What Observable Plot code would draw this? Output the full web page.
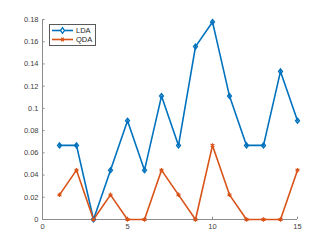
<!DOCTYPE html>
<html>
<head>
<meta charset="utf-8">
<script src="https://cdn.jsdelivr.net/npm/d3@7"></script>
<script src="https://cdn.jsdelivr.net/npm/@observablehq/plot@0.6"></script>
<style>
  html, body { margin: 0; padding: 0; background: #fff; }
  #wrap { position: relative; width: 328px; height: 246px; font-family: "Liberation Sans", Arial, sans-serif; }
  #legend { position: absolute; left: 49px; top: 24px; width: 45px; height: 20px; border: 1px solid #5a5a5a; background: #fff; font-size: 7.5px; color: #262626; }
  .row { position: absolute; left: 0; height: 9px; display: flex; align-items: center; }
  .row svg { display: block; }
  .row span { margin-left: 1px; line-height: 9px; }
</style>
</head>
<body>
<div id="wrap"></div>
<script>
const runs = [1, 2, 3, 4, 5, 6, 7, 8, 9, 10, 11, 12, 13, 14, 15];
const lda = [0.0667, 0.0667, 0, 0.0444, 0.0889, 0.0444, 0.1111, 0.0667, 0.1556, 0.1778, 0.1111, 0.0667, 0.0667, 0.1333, 0.0889];
const qda = [0.0222, 0.0444, 0, 0.0222, 0, 0, 0.0444, 0.0222, 0, 0.0667, 0.0222, 0, 0, 0, 0.0444];
const xTicks = [0, 5, 10, 15];
const yTicks = [0, 0.02, 0.04, 0.06, 0.08, 0.1, 0.12, 0.14, 0.16, 0.18];
const seriesNames = ["LDA", "QDA"];
const colors = ["#0072BD", "#D95319"];

const ldaData = runs.map((r, i) => ({x: r, y: lda[i]}));
const qdaData = runs.map((r, i) => ({x: r, y: qda[i]}));

// MATLAB-like diamond (slightly taller than wide)
const matlabDiamond = {
  draw(context, size) {
    const h = Math.sqrt(size) * 0.62;
    const w = h * 0.8;
    context.moveTo(0, -h);
    context.lineTo(w, 0);
    context.lineTo(0, h);
    context.lineTo(-w, 0);
    context.closePath();
  }
};

const chart = Plot.plot({
  width: 328,
  height: 246,
  marginLeft: 42,
  marginRight: 31,
  marginTop: 19,
  marginBottom: 27,
  style: {fontFamily: "Liberation Sans, Arial, sans-serif", fontSize: "7.5px", color: "#404040", background: "#fff"},
  x: {domain: [0, 15], ticks: xTicks, tickSize: 0, tickPadding: 4, label: null, tickFormat: d => String(d)},
  y: {domain: [0, 0.18], ticks: yTicks, tickSize: 0, tickPadding: 4, label: null, tickFormat: d => String(+d.toFixed(2))},
  marks: [
    Plot.ruleY([0], {x1: 0, x2: 15, stroke: "#8c8c8c", strokeWidth: 1}),
    Plot.ruleX([0], {y1: 0, y2: 0.18, stroke: "#8c8c8c", strokeWidth: 1}),
    Plot.ruleY(yTicks, {x1: 0, x2: 0.15, stroke: "#8c8c8c", strokeWidth: 1}),
    Plot.ruleX(xTicks, {y1: 0, y2: 0.0021, stroke: "#8c8c8c", strokeWidth: 1}),
    Plot.line(ldaData, {x: "x", y: "y", stroke: colors[0], strokeWidth: 1.6}),
    Plot.line(qdaData, {x: "x", y: "y", stroke: colors[1], strokeWidth: 1.6}),
    Plot.dot(ldaData, {x: "x", y: "y", symbol: matlabDiamond, r: 2.2, stroke: colors[0], strokeWidth: 1.4, fill: "none"}),
    Plot.dot(qdaData, {x: "x", y: "y", symbol: "asterisk", r: 2.1, stroke: colors[1], strokeWidth: 1.2})
  ]
});

const wrap = document.getElementById("wrap");
wrap.appendChild(chart);

// Legend
const legend = document.createElement("div");
legend.id = "legend";
const symbols = [
  `<path d="M5.5,1.6 L7.4,4.5 L5.5,7.4 L3.6,4.5 Z" fill="#fff" stroke="${colors[0]}" stroke-width="1.3"/>`,
  `<path d="M3.6,4.5 H7.4 M4.3,2.6 L6.7,6.4 M6.7,2.6 L4.3,6.4" stroke="${colors[1]}" stroke-width="1.1"/>`
];
seriesNames.forEach((name, i) => {
  const row = document.createElement("div");
  row.className = "row";
  row.style.top = (1 + i * 9) + "px";
  row.innerHTML = `<svg width="25" height="9"><line x1="2" y1="4.5" x2="23" y2="4.5" stroke="${colors[i]}" stroke-width="1.6"/><g transform="translate(7,0)">${symbols[i]}</g></svg><span>${name}</span>`;
  legend.appendChild(row);
});
wrap.appendChild(legend);
</script>
</body>
</html>
